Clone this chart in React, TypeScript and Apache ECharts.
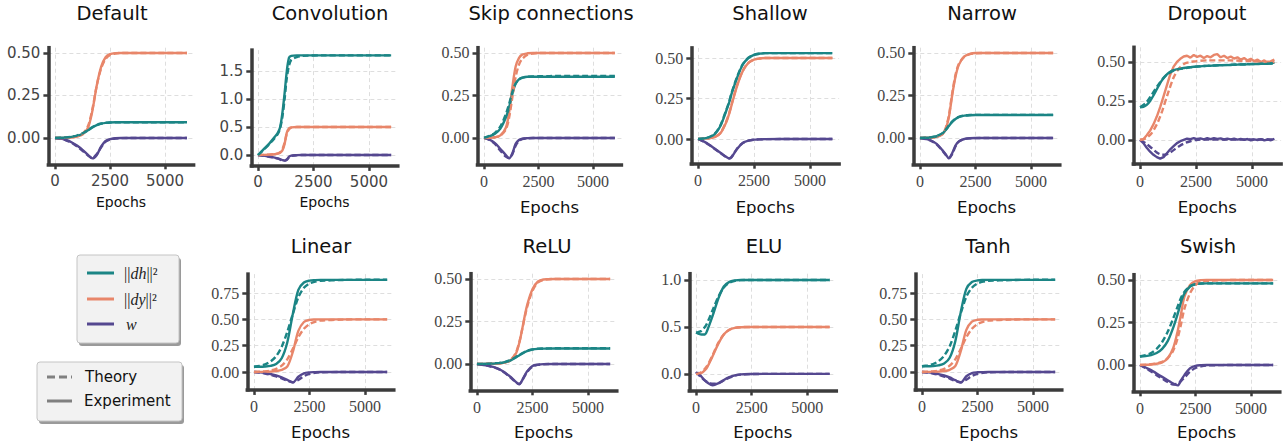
import React, { useEffect, useRef } from "react";
import * as echarts from "echarts";

// ---------------- DATA ----------------
const X_TICKS = [0, 2500, 5000];

const DEF_E = [0, 250, 500, 750, 1000, 1250, 1500, 1700, 1900, 2100, 2300, 2500, 2750, 3000, 4500, 6000];
const DEF_DH_EXP = [0, 0.001, 0.003, 0.006, 0.012, 0.025, 0.045, 0.062, 0.075, 0.084, 0.089, 0.091, 0.092, 0.092, 0.092, 0.092];
const DEF_DH_TH = [0, 0.001, 0.003, 0.007, 0.014, 0.028, 0.048, 0.064, 0.077, 0.085, 0.089, 0.091, 0.092, 0.092, 0.092, 0.092];
const DEF_DY_EXP = [0, 0, 0.001, 0.003, 0.008, 0.02, 0.06, 0.16, 0.31, 0.42, 0.475, 0.493, 0.499, 0.5, 0.5, 0.5];
const DEF_DY_TH = [0, 0, 0.001, 0.003, 0.009, 0.024, 0.07, 0.17, 0.31, 0.41, 0.465, 0.488, 0.497, 0.5, 0.5, 0.5];
const DEF_W_EXP = [0, -0.004, -0.012, -0.025, -0.045, -0.07, -0.1, -0.12, -0.1, -0.05, -0.018, -0.007, -0.002, 0, 0, 0];
const DEF_W_TH = [0, -0.005, -0.014, -0.028, -0.05, -0.075, -0.103, -0.118, -0.095, -0.055, -0.022, -0.009, -0.003, -0.001, 0, 0];

const CONV_E = [0, 250, 500, 750, 900, 1000, 1100, 1200, 1300, 1400, 1500, 1750, 2000, 3000, 4000, 5000, 6000];
const CONV_DH_EXP = [0, 0.1, 0.2, 0.32, 0.4, 0.5, 0.75, 1.1, 1.5, 1.74, 1.77, 1.78, 1.78, 1.78, 1.78, 1.78, 1.78];
const CONV_DH_TH = [0, 0.09, 0.19, 0.3, 0.38, 0.48, 0.68, 1.0, 1.38, 1.6, 1.7, 1.75, 1.77, 1.78, 1.78, 1.78, 1.78];
const CONV_DY_EXP = [0, 0.002, 0.006, 0.015, 0.025, 0.04, 0.08, 0.2, 0.4, 0.48, 0.495, 0.5, 0.5, 0.5, 0.5, 0.5, 0.5];
const CONV_DY_TH = [0, 0.002, 0.007, 0.018, 0.03, 0.05, 0.1, 0.22, 0.38, 0.46, 0.49, 0.5, 0.5, 0.5, 0.5, 0.5, 0.5];
const CONV_W_EXP = [0, -0.01, -0.025, -0.045, -0.06, -0.075, -0.09, -0.1, -0.08, -0.03, -0.01, -0.002, 0, 0, 0, 0, 0];
const CONV_W_TH = [0, -0.012, -0.03, -0.05, -0.065, -0.08, -0.095, -0.1, -0.085, -0.04, -0.015, -0.003, 0, 0, 0, 0, 0];

const SKIP_E = [0, 250, 500, 750, 1000, 1150, 1300, 1450, 1600, 1750, 2000, 2250, 2500, 3000, 4500, 6000];
const SKIP_DH_EXP = [0, 0.01, 0.025, 0.055, 0.12, 0.18, 0.26, 0.32, 0.345, 0.355, 0.36, 0.36, 0.36, 0.36, 0.36, 0.36];
const SKIP_DH_TH = [0, 0.012, 0.03, 0.068, 0.14, 0.2, 0.27, 0.32, 0.343, 0.353, 0.36, 0.362, 0.363, 0.364, 0.365, 0.365];
const SKIP_DY_EXP = [0, 0.001, 0.004, 0.015, 0.06, 0.15, 0.3, 0.42, 0.47, 0.49, 0.498, 0.5, 0.5, 0.5, 0.5, 0.5];
const SKIP_DY_TH = [0, 0.001, 0.004, 0.014, 0.05, 0.12, 0.24, 0.36, 0.43, 0.465, 0.49, 0.497, 0.5, 0.5, 0.5, 0.5];
const SKIP_W_EXP = [0, -0.01, -0.03, -0.065, -0.1, -0.12, -0.09, -0.035, -0.012, -0.004, -0.001, 0, 0, 0, 0, 0];
const SKIP_W_TH = [0, -0.012, -0.035, -0.075, -0.11, -0.118, -0.095, -0.045, -0.018, -0.007, -0.002, 0, 0, 0, 0, 0];

const SHAL_E = [0, 250, 500, 750, 1000, 1250, 1400, 1500, 1750, 2000, 2250, 2500, 2750, 3000, 4500, 6000];
const SHAL_DH_EXP = [0, 0.003, 0.01, 0.03, 0.08, 0.17, 0.23, 0.28, 0.38, 0.46, 0.5, 0.52, 0.527, 0.53, 0.53, 0.53];
const SHAL_DH_TH = [0, 0.003, 0.011, 0.033, 0.085, 0.175, 0.235, 0.285, 0.385, 0.462, 0.502, 0.52, 0.527, 0.53, 0.53, 0.53];
const SHAL_DY_EXP = [0, 0.002, 0.005, 0.012, 0.035, 0.1, 0.16, 0.21, 0.33, 0.42, 0.47, 0.49, 0.497, 0.5, 0.5, 0.5];
const SHAL_DY_TH = [0, 0.002, 0.005, 0.013, 0.037, 0.105, 0.165, 0.215, 0.335, 0.422, 0.47, 0.49, 0.497, 0.5, 0.5, 0.5];
const SHAL_W_EXP = [0, -0.015, -0.035, -0.06, -0.085, -0.11, -0.12, -0.112, -0.06, -0.025, -0.01, -0.004, -0.002, -0.001, 0, 0];
const SHAL_W_TH = [0, -0.016, -0.037, -0.062, -0.087, -0.111, -0.119, -0.11, -0.058, -0.024, -0.01, -0.004, -0.002, -0.001, 0, 0];

const NARR_E = [0, 250, 500, 750, 1000, 1150, 1300, 1450, 1600, 1750, 2000, 2250, 2500, 3000, 4500, 6000];
const NARR_DH_EXP = [0, 0.001, 0.003, 0.01, 0.025, 0.045, 0.07, 0.095, 0.112, 0.123, 0.131, 0.134, 0.135, 0.135, 0.135, 0.135];
const NARR_DH_TH = [0, 0.001, 0.004, 0.011, 0.027, 0.047, 0.072, 0.096, 0.113, 0.124, 0.132, 0.135, 0.136, 0.136, 0.136, 0.136];
const NARR_DY_EXP = [0, 0.001, 0.002, 0.006, 0.02, 0.05, 0.12, 0.25, 0.36, 0.43, 0.48, 0.495, 0.5, 0.5, 0.5, 0.5];
const NARR_DY_TH = [0, 0.001, 0.002, 0.006, 0.022, 0.055, 0.13, 0.26, 0.37, 0.435, 0.478, 0.493, 0.498, 0.5, 0.5, 0.5];
const NARR_W_EXP = [0, -0.005, -0.015, -0.035, -0.07, -0.095, -0.12, -0.09, -0.045, -0.02, -0.006, -0.002, 0, 0, 0, 0];
const NARR_W_TH = [0, -0.006, -0.017, -0.038, -0.073, -0.098, -0.118, -0.095, -0.05, -0.022, -0.007, -0.002, -0.001, 0, 0, 0];

const DROP_E = [0, 150, 300, 450, 600, 750, 900, 1050, 1200, 1350, 1500, 1650, 1800, 1950, 2100, 2250, 2400, 2550, 2700, 2850, 3000, 3150, 3300, 3450, 3600, 3750, 3900, 4050, 4200, 4350, 4500, 4650, 4800, 4950, 5100, 5250, 5400, 5550, 5700, 5850, 6000];
const DROP_DH_EXP = [0.21, 0.212, 0.225, 0.25, 0.285, 0.325, 0.365, 0.395, 0.42, 0.437, 0.447, 0.453, 0.458, 0.461, 0.465, 0.467, 0.469, 0.471, 0.472, 0.474, 0.475, 0.476, 0.477, 0.478, 0.479, 0.48, 0.48, 0.481, 0.482, 0.483, 0.484, 0.484, 0.485, 0.486, 0.486, 0.487, 0.488, 0.488, 0.489, 0.49, 0.497];
const DROP_DY_EXP = [0, 0.005, 0.03, 0.06, 0.1, 0.15, 0.21, 0.28, 0.35, 0.42, 0.47, 0.5, 0.52, 0.535, 0.54, 0.528, 0.545, 0.532, 0.54, 0.525, 0.538, 0.53, 0.545, 0.55, 0.53, 0.54, 0.525, 0.535, 0.522, 0.53, 0.515, 0.525, 0.51, 0.52, 0.505, 0.515, 0.5, 0.51, 0.49, 0.505, 0.515];
const DROP_W_EXP = [0, -0.02, -0.05, -0.075, -0.095, -0.11, -0.12, -0.11, -0.085, -0.06, -0.04, -0.02, -0.008, 0, 0.008, 0.005, 0.012, 0.006, 0.01, 0.004, 0.011, 0.005, 0.012, 0.007, 0.01, 0.003, 0.009, 0.004, 0.008, 0.002, 0.007, 0.001, 0.006, -0.002, 0.004, 0, 0.005, -0.003, 0.003, -0.002, 0.008];
const DROP_TH_E = [0, 250, 500, 750, 900, 1000, 1250, 1500, 1750, 2000, 2250, 2500, 3000, 4000, 5000, 6000];
const DROP_DH_TH = [0.21, 0.235, 0.285, 0.34, 0.37, 0.39, 0.425, 0.445, 0.455, 0.46, 0.465, 0.47, 0.475, 0.482, 0.487, 0.49];
const DROP_DY_TH = [0, 0.01, 0.04, 0.1, 0.15, 0.19, 0.3, 0.4, 0.46, 0.49, 0.5, 0.505, 0.51, 0.51, 0.505, 0.5];
const DROP_W_TH = [0, -0.02, -0.05, -0.08, -0.092, -0.095, -0.09, -0.065, -0.04, -0.02, -0.008, 0, 0.003, 0.003, 0.003, 0.003];

const LIN_E = [0, 250, 500, 750, 1000, 1250, 1500, 1750, 2000, 2250, 2500, 2750, 3000, 4000, 5000, 6000];
const LIN_DH_EXP = [0.05, 0.05, 0.052, 0.058, 0.075, 0.13, 0.28, 0.55, 0.78, 0.85, 0.868, 0.873, 0.875, 0.875, 0.875, 0.875];
const LIN_DH_TH = [0.05, 0.058, 0.072, 0.1, 0.15, 0.24, 0.38, 0.55, 0.71, 0.8, 0.84, 0.858, 0.866, 0.874, 0.876, 0.876];
const LIN_DY_EXP = [0, 0.001, 0.002, 0.004, 0.009, 0.02, 0.05, 0.19, 0.39, 0.475, 0.495, 0.499, 0.5, 0.5, 0.5, 0.5];
const LIN_DY_TH = [0, 0.002, 0.006, 0.014, 0.03, 0.06, 0.12, 0.22, 0.33, 0.41, 0.455, 0.477, 0.488, 0.498, 0.5, 0.5];
const LIN_W_EXP = [0, -0.004, -0.01, -0.02, -0.032, -0.05, -0.075, -0.1, -0.045, -0.012, -0.003, -0.001, 0, 0, 0, 0];
const LIN_W_TH = [0, -0.005, -0.015, -0.027, -0.042, -0.06, -0.082, -0.096, -0.075, -0.04, -0.018, -0.007, -0.003, 0, 0, 0];

const RELU_E = [0, 500, 1000, 1250, 1500, 1750, 1900, 2000, 2250, 2500, 2750, 3000, 3500, 4000, 5000, 6000];
const RELU_DH_EXP = [0, 0.001, 0.005, 0.01, 0.02, 0.038, 0.05, 0.058, 0.075, 0.085, 0.089, 0.09, 0.091, 0.091, 0.091, 0.091];
const RELU_DH_TH = [0, 0.001, 0.006, 0.011, 0.022, 0.04, 0.052, 0.06, 0.077, 0.086, 0.09, 0.091, 0.092, 0.092, 0.092, 0.092];
const RELU_DY_EXP = [0, 0.001, 0.003, 0.008, 0.02, 0.06, 0.12, 0.18, 0.34, 0.44, 0.485, 0.497, 0.5, 0.5, 0.5, 0.5];
const RELU_DY_TH = [0, 0.001, 0.003, 0.008, 0.021, 0.065, 0.125, 0.18, 0.33, 0.43, 0.48, 0.495, 0.5, 0.5, 0.5, 0.5];
const RELU_W_EXP = [0, -0.01, -0.03, -0.05, -0.075, -0.105, -0.12, -0.105, -0.045, -0.012, -0.004, -0.001, 0, 0, 0, 0];
const RELU_W_TH = [0, -0.011, -0.032, -0.052, -0.078, -0.107, -0.118, -0.105, -0.05, -0.015, -0.005, -0.002, 0, 0, 0, 0];

const ELU_E = [0, 100, 250, 400, 500, 750, 1000, 1250, 1500, 1750, 2000, 2500, 3000, 4000, 5000, 6000];
const ELU_DH_EXP = [0.44, 0.43, 0.42, 0.42, 0.46, 0.62, 0.8, 0.93, 0.98, 0.995, 1.0, 1.0, 1.0, 1.0, 1.0, 1.0];
const ELU_DH_TH = [0.44, 0.445, 0.46, 0.5, 0.54, 0.68, 0.82, 0.92, 0.97, 0.99, 0.998, 1.0, 1.0, 1.0, 1.0, 1.0];
const ELU_DY_EXP = [0, 0.002, 0.01, 0.04, 0.07, 0.19, 0.32, 0.42, 0.47, 0.49, 0.497, 0.5, 0.5, 0.5, 0.5, 0.5];
const ELU_DY_TH = [0, 0.004, 0.02, 0.055, 0.085, 0.2, 0.33, 0.42, 0.47, 0.49, 0.497, 0.5, 0.5, 0.5, 0.5, 0.5];
const ELU_W_EXP = [0, 0.01, -0.03, -0.07, -0.09, -0.12, -0.1, -0.065, -0.035, -0.015, -0.005, -0.001, 0, 0, 0, 0];
const ELU_W_TH = [0.02, -0.005, -0.04, -0.07, -0.085, -0.105, -0.1, -0.07, -0.04, -0.018, -0.007, -0.002, 0, 0, 0, 0];

const TANH_E = [0, 250, 500, 750, 1000, 1250, 1500, 1750, 2000, 2250, 2500, 2750, 3000, 4000, 5000, 6000];
const TANH_DH_EXP = [0.055, 0.055, 0.057, 0.063, 0.08, 0.135, 0.29, 0.57, 0.79, 0.855, 0.87, 0.874, 0.875, 0.875, 0.875, 0.875];
const TANH_DH_TH = [0.055, 0.062, 0.076, 0.104, 0.155, 0.245, 0.39, 0.56, 0.715, 0.8, 0.84, 0.858, 0.866, 0.873, 0.876, 0.876];
const TANH_DY_EXP = [0, 0.001, 0.002, 0.004, 0.009, 0.021, 0.055, 0.2, 0.4, 0.478, 0.496, 0.499, 0.5, 0.5, 0.5, 0.5];
const TANH_DY_TH = [0, 0.002, 0.006, 0.014, 0.03, 0.06, 0.12, 0.22, 0.33, 0.41, 0.455, 0.477, 0.488, 0.498, 0.5, 0.5];
const TANH_W_EXP = [0, -0.004, -0.01, -0.02, -0.033, -0.052, -0.078, -0.1, -0.04, -0.01, -0.003, -0.001, 0, 0, 0, 0];
const TANH_W_TH = [0, -0.005, -0.015, -0.027, -0.043, -0.062, -0.085, -0.097, -0.072, -0.038, -0.017, -0.007, -0.003, 0, 0, 0];

const SWI_E = [0, 250, 500, 750, 1000, 1250, 1500, 1700, 1850, 2000, 2250, 2500, 2750, 3000, 4500, 6000];
const SWI_DH_EXP = [0.05, 0.052, 0.058, 0.07, 0.095, 0.14, 0.22, 0.3, 0.37, 0.42, 0.46, 0.475, 0.479, 0.48, 0.48, 0.48];
const SWI_DH_TH = [0.05, 0.058, 0.07, 0.095, 0.135, 0.195, 0.275, 0.345, 0.395, 0.43, 0.463, 0.475, 0.479, 0.48, 0.48, 0.48];
const SWI_DY_EXP = [0, 0.001, 0.003, 0.007, 0.015, 0.04, 0.1, 0.2, 0.3, 0.4, 0.47, 0.493, 0.499, 0.5, 0.5, 0.5];
const SWI_DY_TH = [0, 0.001, 0.004, 0.009, 0.018, 0.04, 0.085, 0.16, 0.24, 0.33, 0.42, 0.47, 0.49, 0.495, 0.5, 0.5];
const SWI_W_EXP = [0, -0.015, -0.03, -0.05, -0.07, -0.09, -0.11, -0.12, -0.09, -0.06, -0.02, -0.005, -0.001, 0, 0, 0];
const SWI_W_TH = [0, -0.018, -0.038, -0.06, -0.08, -0.1, -0.115, -0.11, -0.095, -0.075, -0.04, -0.018, -0.008, -0.003, 0, 0];

const TICKS_025 = [0, 0.25, 0.5];
const TICKS_05_15 = [0, 0.5, 1.0, 1.5];
const TICKS_025_075 = [0, 0.25, 0.5, 0.75];
const TICKS_05_10 = [0, 0.5, 1.0];

// ---------------- STYLE / LAYOUT ----------------
const TEAL = "#1b8585";
const ORANGE = "#e8866a";
const PURPLE = "#554890";
const AX = "#3b3b3b";

type Panel = {
  title: string;
  eT: number[];
  eX: number[];
  dhX: number[]; dhT: number[];
  dyX: number[]; dyT: number[];
  wX: number[]; wT: number[];
  ymin: number; ymax: number; yticks: number[]; dec: number;
  sans: boolean; noisy?: boolean;
  tx: number;
  g: { left: number; top: number; width: number; height: number };
};

const PANELS: Panel[] = [
  { title: "Default", eT: DEF_E, eX: DEF_E, dhX: DEF_DH_EXP, dhT: DEF_DH_TH, dyX: DEF_DY_EXP, dyT: DEF_DY_TH, wX: DEF_W_EXP, wT: DEF_W_TH,
    ymin: -0.155, ymax: 0.531, yticks: TICKS_025, dec: 2, sans: true, tx: 112, g: { left: 48.4, top: 47.7, width: 145.2, height: 116.6 } },
  { title: "Convolution", eT: CONV_E, eX: CONV_E, dhX: CONV_DH_EXP, dhT: CONV_DH_TH, dyX: CONV_DY_EXP, dyT: CONV_DY_TH, wX: CONV_W_EXP, wT: CONV_W_TH,
    ymin: -0.194, ymax: 1.874, yticks: TICKS_05_15, dec: 1, sans: true, tx: 330, g: { left: 251.3, top: 50.1, width: 146.5, height: 115.8 } },
  { title: "Skip connections", eT: SKIP_E, eX: SKIP_E, dhX: SKIP_DH_EXP, dhT: SKIP_DH_TH, dyX: SKIP_DY_EXP, dyT: SKIP_DY_TH, wX: SKIP_W_EXP, wT: SKIP_W_TH,
    ymin: -0.155, ymax: 0.531, yticks: TICKS_025, dec: 2, sans: false, tx: 551, g: { left: 477.5, top: 47.7, width: 143.9, height: 116.6 } },
  { title: "Shallow", eT: SHAL_E, eX: SHAL_E, dhX: SHAL_DH_EXP, dhT: SHAL_DH_TH, dyX: SHAL_DY_EXP, dyT: SHAL_DY_TH, wX: SHAL_W_EXP, wT: SHAL_W_TH,
    ymin: -0.1525, ymax: 0.5625, yticks: TICKS_025, dec: 2, sans: false, tx: 770, g: { left: 691.3, top: 47.9, width: 147.8, height: 115.8 } },
  { title: "Narrow", eT: NARR_E, eX: NARR_E, dhX: NARR_DH_EXP, dhT: NARR_DH_TH, dyX: NARR_DY_EXP, dyT: NARR_DY_TH, wX: NARR_W_EXP, wT: NARR_W_TH,
    ymin: -0.155, ymax: 0.531, yticks: TICKS_025, dec: 2, sans: false, tx: 982, g: { left: 913.3, top: 47.7, width: 146.5, height: 116.6 } },
  { title: "Dropout", eT: DROP_TH_E, eX: DROP_E, dhX: DROP_DH_EXP, dhT: DROP_DH_TH, dyX: DROP_DY_EXP, dyT: DROP_DY_TH, wX: DROP_W_EXP, wT: DROP_W_TH,
    ymin: -0.154, ymax: 0.594, yticks: TICKS_025, dec: 2, sans: false, noisy: true, tx: 1207, g: { left: 1133.3, top: 47.3, width: 147.8, height: 116.7 } },
  { title: "Linear", eT: LIN_E, eX: LIN_E, dhX: LIN_DH_EXP, dhT: LIN_DH_TH, dyX: LIN_DY_EXP, dyT: LIN_DY_TH, wX: LIN_W_EXP, wT: LIN_W_TH,
    ymin: -0.17, ymax: 0.93, yticks: TICKS_025_075, dec: 2, sans: false, tx: 321, g: { left: 247.3, top: 274.1, width: 146.5, height: 115.8 } },
  { title: "ReLU", eT: RELU_E, eX: RELU_E, dhX: RELU_DH_EXP, dhT: RELU_DH_TH, dyX: RELU_DY_EXP, dyT: RELU_DY_TH, wX: RELU_W_EXP, wT: RELU_W_TH,
    ymin: -0.155, ymax: 0.531, yticks: TICKS_025, dec: 2, sans: false, tx: 547, g: { left: 470.3, top: 273.7, width: 146.5, height: 116.6 } },
  { title: "ELU", eT: ELU_E, eX: ELU_E, dhX: ELU_DH_EXP, dhT: ELU_DH_TH, dyX: ELU_DY_EXP, dyT: ELU_DY_TH, wX: ELU_W_EXP, wT: ELU_W_TH,
    ymin: -0.1765, ymax: 1.0665, yticks: TICKS_05_10, dec: 1, sans: false, tx: 764, g: { left: 689.3, top: 273.7, width: 147, height: 116.8 } },
  { title: "Tanh", eT: TANH_E, eX: TANH_E, dhX: TANH_DH_EXP, dhT: TANH_DH_TH, dyX: TANH_DY_EXP, dyT: TANH_DY_TH, wX: TANH_W_EXP, wT: TANH_W_TH,
    ymin: -0.17, ymax: 0.93, yticks: TICKS_025_075, dec: 2, sans: false, tx: 988, g: { left: 915.3, top: 274.1, width: 146.5, height: 115.8 } },
  { title: "Swish", eT: SWI_E, eX: SWI_E, dhX: SWI_DH_EXP, dhT: SWI_DH_TH, dyX: SWI_DY_EXP, dyT: SWI_DY_TH, wX: SWI_W_EXP, wT: SWI_W_TH,
    ymin: -0.155, ymax: 0.531, yticks: TICKS_025, dec: 2, sans: false, tx: 1208, g: { left: 1133.3, top: 274.7, width: 146.5, height: 116.6 } },
];

const SANS = "DejaVu Sans";
const SERIF = "Liberation Serif";

function buildOption() {
  const grid: any[] = [];
  const xAxis: any[] = [];
  const yAxis: any[] = [];
  const series: any[] = [];
  const graphic: any[] = [];

  PANELS.forEach((p, i) => {
    grid.push({ ...p.g, containLabel: false, outerBoundsMode: "none" });
    const tickFont = p.sans ? { fontFamily: SANS, fontSize: 15 } : { fontFamily: SERIF, fontSize: 16 };
    xAxis.push({
      gridIndex: i, type: "value", min: -300, max: 6300,
      axisLine: { show: true, onZero: false, lineStyle: { color: AX, width: 3.5, cap: "square" } },
      axisTick: { show: true, customValues: X_TICKS, length: 5, lineStyle: { color: AX, width: 2.5 } },
      axisLabel: { customValues: X_TICKS, color: "#444", margin: 9, hideOverlap: false, formatter: (v: number) => String(Math.round(v)), ...tickFont },
      splitLine: { show: true, lineStyle: { color: "#dedede", width: 1, type: [4, 3] } },
    });
    yAxis.push({
      gridIndex: i, type: "value", min: p.ymin, max: p.ymax,
      axisLine: { show: true, onZero: false, lineStyle: { color: AX, width: 3.5, cap: "square" } },
      axisTick: { show: true, customValues: p.yticks, length: 5, lineStyle: { color: AX, width: 2.5 } },
      axisLabel: { customValues: p.yticks, color: "#444", margin: 8, hideOverlap: false, formatter: (v: number) => v.toFixed(p.dec), ...tickFont },
      splitLine: { show: true, lineStyle: { color: "#dedede", width: 1, type: [4, 3] } },
    });
    const mk = (e: number[], vals: number[], color: string, dashed: boolean, noisy: boolean) => ({
      type: "line", xAxisIndex: i, yAxisIndex: i, silent: true,
      data: e.map((x, k) => [x, vals[k]]),
      showSymbol: false, symbol: "none", smooth: noisy ? false : 0.3,
      lineStyle: { color, width: 2.4, type: dashed ? [6, 3] : "solid" },
      z: dashed ? 3 : 2,
    });
    const nz = !!p.noisy;
    series.push(mk(p.eX, p.wX, PURPLE, false, nz), mk(p.eT, p.wT, PURPLE, true, false));
    series.push(mk(p.eX, p.dyX, ORANGE, false, nz), mk(p.eT, p.dyT, ORANGE, true, false));
    series.push(mk(p.eX, p.dhX, TEAL, false, false), mk(p.eT, p.dhT, TEAL, true, false));

    const cx = p.g.left + p.g.width / 2;
    const top = i < 6;
    graphic.push({
      type: "text", x: p.tx, y: top ? 13 : 246, silent: true,
      style: { text: p.title, fontFamily: SANS, fontSize: 19.5, fill: "#111", textAlign: "center", textVerticalAlign: "middle" },
    });
    graphic.push({
      type: "text", x: cx, y: top ? (p.sans ? 202 : 207) : 432, silent: true,
      style: { text: "Epochs", fontFamily: SANS, fontSize: p.sans ? 14 : 16.5, fill: "#111", textAlign: "center", textVerticalAlign: "middle" },
    });
  });

  // Legend boxes
  const box = (x: number, y: number, w: number, h: number) => [
    { type: "rect", shape: { x: x + 2, y: y + 3, width: w, height: h, r: 3 }, style: { fill: "#9a9a9a" }, silent: true },
    { type: "rect", shape: { x, y, width: w, height: h, r: 3 }, style: { fill: "#f2f2f2", stroke: "#c4c4c4", lineWidth: 1 }, silent: true },
  ];
  graphic.push(...box(77, 255, 102, 88));
  graphic.push(...box(37, 362, 145, 59));
  const legLine = (x1: number, x2: number, y: number, color: string, dash?: number[]) => ({
    type: "line", shape: { x1, y1: y, x2, y2: y }, silent: true,
    style: { stroke: color, lineWidth: 3, lineDash: dash || null },
  });
  graphic.push(legLine(87, 114, 273, TEAL), legLine(87, 114, 299, ORANGE), legLine(87, 114, 324, PURPLE));
  const mathRich = {
    n: { fontFamily: SERIF, fontSize: 16, fill: "#222" },
    i: { fontFamily: SERIF, fontSize: 16, fontStyle: "italic", fill: "#222" },
  };
  graphic.push({ type: "text", x: 124, y: 273, silent: true, style: { text: "{n|||}{i|dh}{n|||²}", rich: mathRich, textVerticalAlign: "middle" } });
  graphic.push({ type: "text", x: 124, y: 299, silent: true, style: { text: "{n|||}{i|dy}{n|||²}", rich: mathRich, textVerticalAlign: "middle" } });
  graphic.push({ type: "text", x: 126, y: 324, silent: true, style: { text: "{i|w}", rich: mathRich, textVerticalAlign: "middle" } });
  graphic.push(legLine(47, 72, 377, "#808080", [8, 4]), legLine(47, 72, 401, "#808080"));
  graphic.push({ type: "text", x: 85, y: 377, silent: true, style: { text: "Theory", fontFamily: SANS, fontSize: 15, fill: "#111", textVerticalAlign: "middle" } });
  graphic.push({ type: "text", x: 84, y: 401, silent: true, style: { text: "Experiment", fontFamily: SANS, fontSize: 15, fill: "#111", textVerticalAlign: "middle" } });

  return { animation: false, backgroundColor: "#ffffff", grid, xAxis, yAxis, series, graphic };
}

export default function App() {
  const ref = useRef<HTMLDivElement>(null);
  useEffect(() => {
    if (!ref.current) return;
    const chart = echarts.init(ref.current, undefined, { renderer: "svg" });
    chart.setOption(buildOption() as any);
    return () => chart.dispose();
  }, []);
  return <div ref={ref} style={{ position: "absolute", left: 0, top: 0, width: 1286, height: 446, background: "#fff" }} />;
}
